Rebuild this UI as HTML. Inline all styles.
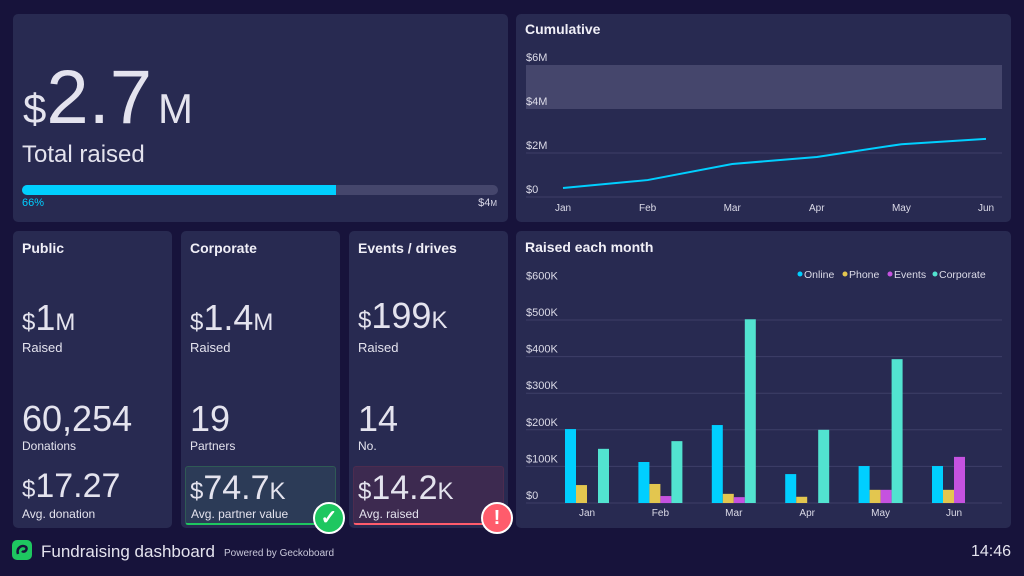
<!DOCTYPE html>
<html><head><meta charset="utf-8">
<style>
*{box-sizing:border-box;margin:0;padding:0}
body{width:1024px;height:576px;background:#17133b;font-family:"Liberation Sans",sans-serif;color:#e4e3ee;position:relative;overflow:hidden}
.panel{position:absolute;background:#282a51;border-radius:5px}
.abs{position:absolute;white-space:nowrap}
.title{font-weight:bold;font-size:14px;color:#f0eff7}
.big{font-size:36px;line-height:1}
.cur{font-size:24px}
.unit{font-size:24px}
.lbl{font-size:13px}
svg text{font-family:"Liberation Sans",sans-serif}
</style></head><body>
<div class="panel" style="left:13px;top:14px;width:495px;height:208px">
  <div class="abs" style="left:10px;top:46px;line-height:1"><span style="font-size:42px">$</span><span style="font-size:76px">2.7</span><span style="font-size:42px;margin-left:6px">M</span></div>
  <div class="abs" style="left:9px;top:127px;font-size:24px">Total raised</div>
  <div class="abs" style="left:9px;top:171px;width:476px;height:10px;background:#45466c;border-radius:5px"></div>
  <div class="abs" style="left:9px;top:171px;width:314px;height:10px;background:#00cfff;border-radius:5px 0 0 5px"></div>
  <div class="abs" style="left:9px;top:183px;font-size:11px;color:#00cfff">66%</div>
  <div class="abs" style="right:11px;top:183px;font-size:11px;color:#d8d7e6">$4<span style="font-size:8px">M</span></div>
</div>

<div class="panel" style="left:516px;top:14px;width:495px;height:208px">
  <div class="abs title" style="left:9px;top:7px">Cumulative</div>
</div>
<svg id="cum" class="abs" style="left:0;top:0" width="1024" height="230"></svg>

<div class="panel" style="left:13px;top:231px;width:159px;height:297px">
  <div class="abs title" style="left:9px;top:9px">Public</div>
  <div class="abs big" style="left:9px;top:69px"><span class="cur">$</span>1<span class="unit">M</span></div>
  <div class="abs lbl" style="left:9px;top:109px">Raised</div>
  <div class="abs big" style="left:9px;top:170px">60,254</div>
  <div class="abs" style="left:9px;top:208px;font-size:12px">Donations</div>
  <div class="abs" style="left:9px;top:238px;font-size:34px;line-height:1"><span class="cur">$</span>17.27</div>
  <div class="abs" style="left:9px;top:276px;font-size:12px">Avg. donation</div>
</div>

<div class="panel" style="left:181px;top:231px;width:159px;height:297px">
  <div class="abs title" style="left:9px;top:9px">Corporate</div>
  <div class="abs big" style="left:9px;top:69px"><span class="cur">$</span>1.4<span class="unit">M</span></div>
  <div class="abs lbl" style="left:9px;top:109px">Raised</div>
  <div class="abs big" style="left:9px;top:170px">19</div>
  <div class="abs" style="left:9px;top:208px;font-size:12px">Partners</div>
  <div class="abs" style="left:4px;top:235px;width:151px;height:59px;background:#2c3b57;border:1px solid #2f5a55;border-bottom:2px solid #1ec760;border-radius:3px"></div>
  <div class="abs" style="left:9px;top:240px;font-size:34px;line-height:1"><span class="cur">$</span>74.7<span class="unit">K</span></div>
  <div class="abs" style="left:10px;top:276px;font-size:12px">Avg. partner value</div>
</div>
<div class="abs" style="left:313px;top:502px;width:32px;height:32px;border-radius:50%;background:#1ec760;border:2px solid #fff;color:#fff;font-size:20px;font-weight:bold;text-align:center;line-height:28px">✓</div>

<div class="panel" style="left:349px;top:231px;width:159px;height:297px">
  <div class="abs title" style="left:9px;top:9px">Events / drives</div>
  <div class="abs big" style="left:9px;top:67px"><span class="cur">$</span>199<span class="unit">K</span></div>
  <div class="abs lbl" style="left:9px;top:109px">Raised</div>
  <div class="abs big" style="left:9px;top:170px">14</div>
  <div class="abs" style="left:9px;top:208px;font-size:12px">No.</div>
  <div class="abs" style="left:4px;top:235px;width:151px;height:59px;background:#3d2a50;border:1px solid #4c2c4f;border-bottom:2px solid #ff5c6c;border-radius:3px"></div>
  <div class="abs" style="left:9px;top:240px;font-size:34px;line-height:1"><span class="cur">$</span>14.2<span class="unit">K</span></div>
  <div class="abs" style="left:10px;top:276px;font-size:12px">Avg. raised</div>
</div>
<div class="abs" style="left:481px;top:502px;width:32px;height:32px;border-radius:50%;background:#ff5c6c;border:2px solid #fff;color:#fff;font-size:20px;font-weight:bold;text-align:center;line-height:28px">!</div>

<div class="panel" style="left:516px;top:231px;width:495px;height:297px">
  <div class="abs title" style="left:9px;top:8px">Raised each month</div>
</div>
<svg id="bars" class="abs" style="left:0;top:0" width="1024" height="576"></svg>

<svg class="abs" style="left:12px;top:540px" width="22" height="22"><rect x="0" y="0" width="20" height="20" rx="5" fill="#1ec760"/><path d="M6 14 C4 8 10 4 14 7 C16 10 12 13 10 11" stroke="#17133b" stroke-width="2.5" fill="none"/></svg>
<div class="abs" style="left:41px;top:542px;font-size:17px">Fundraising dashboard</div>
<div class="abs" style="left:224px;top:548px;font-size:10px;color:#c9c8da">Powered by Geckoboard</div>
<div class="abs" style="right:13px;top:543px;font-size:16px">14:46</div>

<script>
const NS='http://www.w3.org/2000/svg';
function mk(svg,tag,attrs,txt){const e=document.createElementNS(NS,tag);for(const k in attrs)e.setAttribute(k,attrs[k]);if(txt!=null)e.textContent=txt;svg.appendChild(e);return e;}

// Cumulative
const cumMonths=['Jan','Feb','Mar','Apr','May','Jun'];
const cumValues=[0.41,0.77,1.5,1.82,2.4,2.64];
const cumTicks=[0,2,4,6];
const cumTickLabels=['$0','$2M','$4M','$6M'];
const cumTarget=[4,6];
(function(){
  const s=document.getElementById('cum');
  const y=v=>197-v*22, x=i=>563+i*84.6;
  const band=mk(s,'rect',{x:526,y:y(cumTarget[1]),width:476,height:y(cumTarget[0])-y(cumTarget[1]),fill:'#45466c'});
  
  cumTicks.forEach((t,i)=>{
    if(t<4){const g=mk(s,'line',{x1:526,x2:1002,y1:y(t),y2:y(t),stroke:'#3e3f68','stroke-width':1});
    }
    const l=mk(s,'text',{x:526,y:y(t)-4,'font-size':11,fill:'#dcdbe8'},cumTickLabels[i]);
    
  });
  cumMonths.forEach((m,i)=>{
    const l=mk(s,'text',{x:x(i),y:211,'font-size':10,fill:'#dcdbe8','text-anchor':'middle'},m);
    
  });
  const p=mk(s,'polyline',{points:cumValues.map((v,i)=>x(i)+','+y(v)).join(' '),fill:'none',stroke:'#00cfff','stroke-width':2});
  
})();

// Monthly bars
const months=['Jan','Feb','Mar','Apr','May','Jun'];
const online=[202,112,213,79,101,101];
const phone=[49,52,25,17,36,36];
const events=[0,19,16,0,36,126];
const corporate=[148,169,502,200,393,0];
const barTicks=[0,100,200,300,400,500,600];
const barTickLabels=['$0','$100K','$200K','$300K','$400K','$500K','$600K'];
const seriesNames=['Online','Phone','Events','Corporate'];
const seriesColors=['#00cfff','#e3c64f','#c552e0','#52e3d0'];
(function(){
  const s=document.getElementById('bars');
  const y=v=>503-v*0.366, gx=i=>587+i*73.4;
  barTicks.forEach((t,i)=>{
    if(t<600){const g=mk(s,'line',{x1:526,x2:1002,y1:y(t),y2:y(t),stroke:'#3e3f68','stroke-width':1});
    }
    const l=mk(s,'text',{x:526,y:y(t)-4,'font-size':11,fill:'#dcdbe8'},barTickLabels[i]);
    
  });
  const series=[online,phone,events,corporate];
  months.forEach((m,i)=>{
    series.forEach((arr,k)=>{
      const v=arr[i]; if(v<=0) return;
      const r=mk(s,'rect',{x:gx(i)-22+k*11,y:y(v),width:11,height:y(0)-y(v),fill:seriesColors[k]});
      
      
    });
    const l=mk(s,'text',{x:gx(i),y:516,'font-size':10,fill:'#dcdbe8','text-anchor':'middle'},m);
    
  });
  let lx=797;
  const widths=[45,45,45,60];
  seriesNames.forEach((n,k)=>{
    const c=mk(s,'circle',{cx:lx+3,cy:274,r:2.5,fill:seriesColors[k]});
    
    const t=mk(s,'text',{x:lx+7,y:278,'font-size':10.5,fill:'#dcdbe8'},n);
    
    lx+=widths[k];
  });
})();
</script>
</body></html>
